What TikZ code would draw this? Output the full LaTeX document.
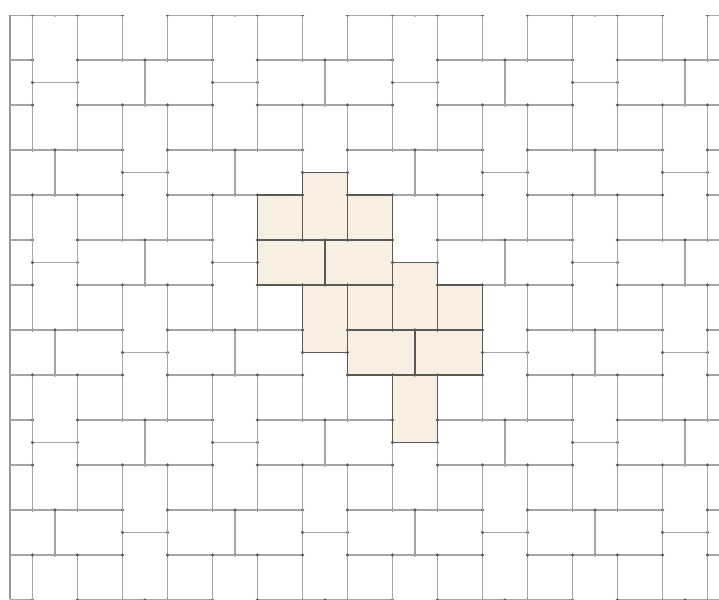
\documentclass[tikz,border=0pt]{standalone}
\usepackage{xcolor}
\usepackage{tikz}
\definecolor{sand}{HTML}{F8EFE2}

\begin{document}
\begin{tikzpicture}[x=0.5cm,y=-0.5cm,
  tile/.style={draw=gray!70, line width=0.65pt},
  hl/.style={draw=gray!70!black, line width=0.7pt},
  dot/.style={fill=gray!75!black}]
\useasboundingbox (-0.4444,-0.6667) rectangle (31.511,25.956);
\coordinate (tl) at (0,0);
\coordinate (bl) at (0,25.956);
\coordinate (br) at (31.511,25.956);
\begin{scope}
\clip (tl) rectangle (br);
% shaded blocks
\foreach \ax/\ay in {13/7,17/11} {
  \foreach \dx/\dy/\w/\h in {0/0/2/3,-2/1/2/2,2/1/2/2,-2/3/3/2,1/3/3/2,0/5/2/3} {
    \fill[sand] ({\ax+(\dx)},{\ay+(\dy)}) rectangle ++(\w,\h);
  }
}
% the paving
\foreach \p in {-4,...,5} {
  \foreach \r in {-5,...,5} {
    \pgfmathtruncatemacro\ax{13+4*\p}
    \pgfmathtruncatemacro\ay{7+4*\p+8*\r}
    \foreach \dx/\dy/\w/\h in {0/0/2/3,-2/1/2/2,2/1/2/2,-2/3/3/2,1/3/3/2,0/5/2/3} {
      \draw[tile] ({\ax+(\dx)},{\ay+(\dy)}) rectangle ++(\w,\h);
      \fill[dot] ({\ax+(\dx)},{\ay+(\dy)}) circle (1pt)
        ({\ax+(\dx)+\w},{\ay+(\dy)}) circle (1pt)
        ({\ax+(\dx)},{\ay+(\dy)+\h}) circle (1pt)
        ({\ax+(\dx)+\w},{\ay+(\dy)+\h}) circle (1pt);
    }
  }
}
% outline of the shaded blocks
\foreach \ax/\ay in {13/7,17/11} {
  \foreach \dx/\dy/\w/\h in {0/0/2/3,-2/1/2/2,2/1/2/2,-2/3/3/2,1/3/3/2,0/5/2/3} {
    \draw[hl] ({\ax+(\dx)},{\ay+(\dy)}) rectangle ++(\w,\h);
  }
}
\end{scope}
\draw[gray!80, line width=1pt] (tl) -- (bl);
\end{tikzpicture}
\end{document}
